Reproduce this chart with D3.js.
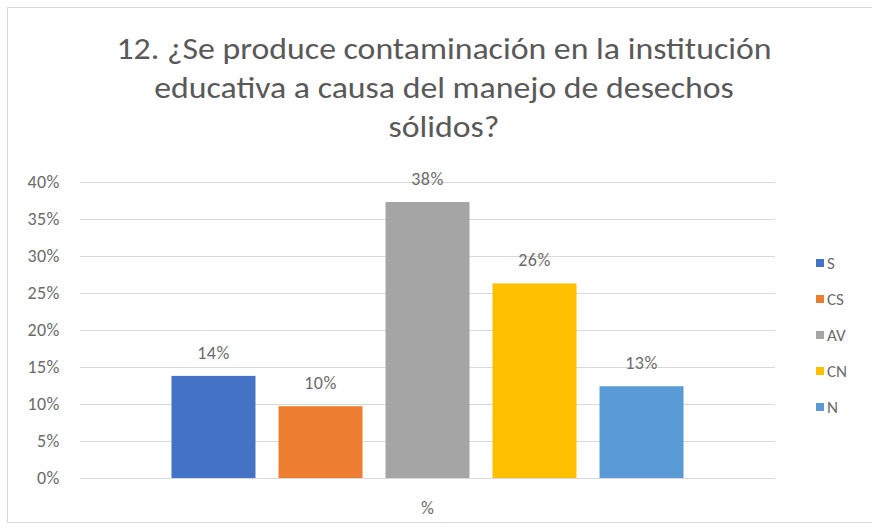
<!DOCTYPE html>
<html>
<head>
<meta charset="utf-8">
<script src="https://cdn.jsdelivr.net/npm/d3@7"></script>
<style>
  body { margin: 0; background: #fff; }
  text { font-family: Calibri, Carlito, Lato, "Open Sans", "Liberation Sans", sans-serif; }
</style>
</head>
<body>
<div id="chart"></div>
<script>
const titleLines = [
  "12. ¿Se produce contaminación en la institución",
  "educativa a causa del manejo de desechos",
  "sólidos?"
];
const series = ["S", "CS", "AV", "CN", "N"];
const values = [0.138, 0.097, 0.373, 0.263, 0.124];
const labels = ["14%", "10%", "38%", "26%", "13%"];
const colors = ["#4472C4", "#ED7D31", "#A5A5A5", "#FFC000", "#5B9BD5"];
const category = "%";
const yTicks = [0, 0.05, 0.1, 0.15, 0.2, 0.25, 0.3, 0.35, 0.4];

const w = 872, h = 531;
const plot = {left: 80, right: 775, top: 182, bottom: 478};

const svg = d3.select("#chart").append("svg")
    .attr("width", w)
    .attr("height", h);

// chart frame
svg.append("rect")
    .attr("x", 7.5).attr("y", 7.5)
    .attr("width", w + 10).attr("height", 515)
    .attr("fill", "#fff")
    .attr("stroke", "#d9d9d9");

// title: squeeze lines so line 1 is as wide as in the original
const tl = svg.append("g")
    .selectAll("text")
    .data(titleLines)
    .enter().append("text")
    .attr("x", 444)
    .attr("y", (d, i) => 59 + i * 39)
    .attr("text-anchor", "middle")
    .attr("fill", "#595959")
    .style("font-size", "30px")
    .text(d => d);
const ratio = 655 / tl.node().getComputedTextLength();
tl.each(function () {
    const len = this.getComputedTextLength();
    d3.select(this)
        .attr("textLength", len * ratio)
        .attr("lengthAdjust", "spacingAndGlyphs");
});

const y = d3.scaleLinear().domain([0, 0.4]).range([plot.bottom, plot.top]);
const x = d3.scaleBand()
    .domain(series)
    .range([plot.left, plot.right])
    .paddingInner(0.215)
    .paddingOuter(0.855);

// gridlines
svg.append("g")
    .selectAll("line")
    .data(yTicks)
    .enter().append("line")
    .attr("x1", plot.left).attr("x2", plot.right)
    .attr("y1", d => Math.round(y(d)) + 0.5)
    .attr("y2", d => Math.round(y(d)) + 0.5)
    .attr("stroke", "#d9d9d9")
    .attr("stroke-width", 1);

// y axis labels
const yAxis = svg.append("g")
    .attr("transform", "translate(" + plot.left + ",0)")
    .call(d3.axisLeft(y).tickValues(yTicks).tickFormat(d3.format(".0%")).tickSize(0).tickPadding(20));
yAxis.select(".domain").remove();
yAxis.selectAll("text")
    .attr("fill", "#6b6b6b")
    .style("font-size", "18px")
    .style("letter-spacing", "0.5px");

// bars
svg.append("g")
    .selectAll("rect")
    .data(series)
    .enter().append("rect")
    .attr("x", d => x(d))
    .attr("y", (d, i) => y(values[i]))
    .attr("width", x.bandwidth())
    .attr("height", (d, i) => y(0) - y(values[i]))
    .attr("fill", (d, i) => colors[i]);

// data labels
svg.append("g")
    .selectAll("text")
    .data(series)
    .enter().append("text")
    .attr("x", d => x(d) + x.bandwidth() / 2)
    .attr("y", (d, i) => y(values[i]) - 17)
    .attr("text-anchor", "middle")
    .attr("fill", "#6b6b6b")
    .style("font-size", "18px")
    .style("letter-spacing", "0.5px")
    .text((d, i) => labels[i]);

// category label
svg.append("text")
    .attr("x", (plot.left + plot.right) / 2)
    .attr("y", 514)
    .attr("text-anchor", "middle")
    .attr("fill", "#6b6b6b")
    .style("font-size", "18px")
    .text(category);

// legend
const legend = svg.append("g")
    .selectAll("g")
    .data(series)
    .enter().append("g")
    .attr("transform", (d, i) => "translate(816," + (263 + i * 36) + ")");
legend.append("rect")
    .attr("x", 0).attr("y", -4)
    .attr("width", 8).attr("height", 8)
    .attr("fill", (d, i) => colors[i]);
legend.append("text")
    .attr("x", 11)
    .attr("y", 6)
    .attr("fill", "#6b6b6b")
    .style("font-size", "17px")
    .text(d => d);
</script>
</body>
</html>
